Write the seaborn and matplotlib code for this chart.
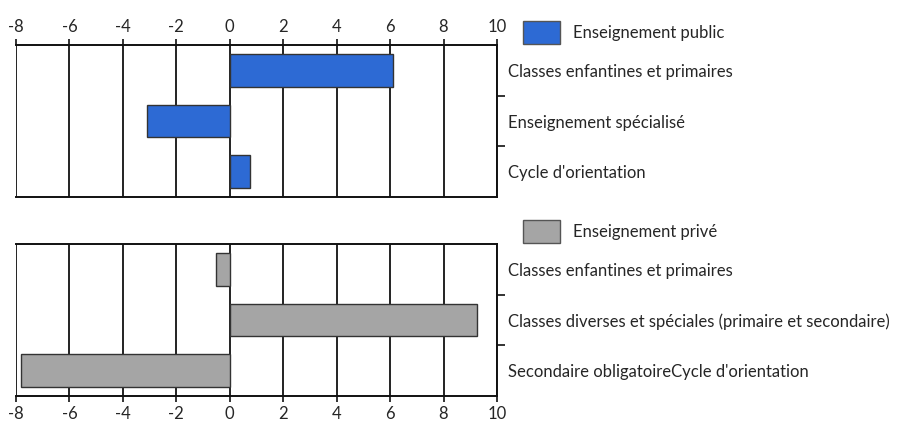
import numpy as np
import pandas as pd
import seaborn as sns
import matplotlib.pyplot as plt
from matplotlib.patches import Patch

# données
cats_public = ["Classes enfantines et primaires", "Enseignement spécialisé", "Cycle d'orientation"]
vals_public = [6.1, -3.1, 0.75]
cats_prive = ["Classes enfantines et primaires",
              "Classes diverses et spéciales (primaire et secondaire)",
              "Secondaire obligatoireCycle d'orientation"]
vals_prive = [-0.5, 9.25, -7.8]
xticks = [-8, -6, -4, -2, 0, 2, 4, 6, 8, 10]

sns.set_style("white")
plt.rcParams['font.family'] = ['Lato', 'DejaVu Sans']
plt.rcParams['axes.unicode_minus'] = False

fig = plt.figure(figsize=(9.01, 4.28), dpi=100)
ax1 = fig.add_axes([0.0178, 0.5397, 0.5338, 0.355])
ax2 = fig.add_axes([0.0178, 0.0748, 0.5338, 0.355])

blue = "#2d6ad4"
grey = "#a5a5a5"

panels = [
    (ax1, cats_public, vals_public, blue, "Enseignement public", "top"),
    (ax2, cats_prive, vals_prive, grey, "Enseignement privé", "bottom"),
]

for ax, cats, vals, col, lab, side in panels:
    df = pd.DataFrame(dict(cat=cats, val=vals))
    sns.barplot(data=df, x="val", y="cat", orient="h", color=col, saturation=1,
                width=0.64, edgecolor="#333333", linewidth=1.0, ax=ax, zorder=3)
    ax.set_xlim(-8, 10)
    ax.set_ylim(2.5, -0.5)
    ax.set_xlabel("")
    ax.set_ylabel("")
    for x in xticks:
        ax.axvline(x, color="#111111", lw=1.3, zorder=1)
    ax.set_xticks(xticks)
    ax.set_xticklabels([str(x) for x in xticks], fontsize=12)
    if side == "top":
        ax.xaxis.tick_top()
    else:
        ax.xaxis.tick_bottom()
    ax.tick_params(axis="x", length=4, width=1.2, color="#111111", pad=3)
    # étiquettes de catégories à droite
    ax.yaxis.tick_right()
    ax.set_yticks([0, 1, 2])
    ax.set_yticklabels(cats, fontsize=12)
    ax.tick_params(axis="y", which="major", length=0, pad=8)
    ax.set_yticks([0.5, 1.5], minor=True)
    ax.tick_params(axis="y", which="minor", right=True, left=False, length=6,
                   width=1.2, color="#111111", direction="out")
    for s in ["top", "bottom", "right"]:
        ax.spines[s].set_visible(True)
        ax.spines[s].set_color("#111111")
        ax.spines[s].set_linewidth(1.4)
    ax.spines["left"].set_visible(False)
    ax.legend(handles=[Patch(facecolor=col, edgecolor="#555555", label=lab)],
              loc="lower left", bbox_to_anchor=(1.04, 0.96), frameon=False,
              handlelength=2.2, handleheight=1.8, handletextpad=0.8,
              fontsize=12, borderaxespad=0)

fig.savefig("out.png", dpi=100)
